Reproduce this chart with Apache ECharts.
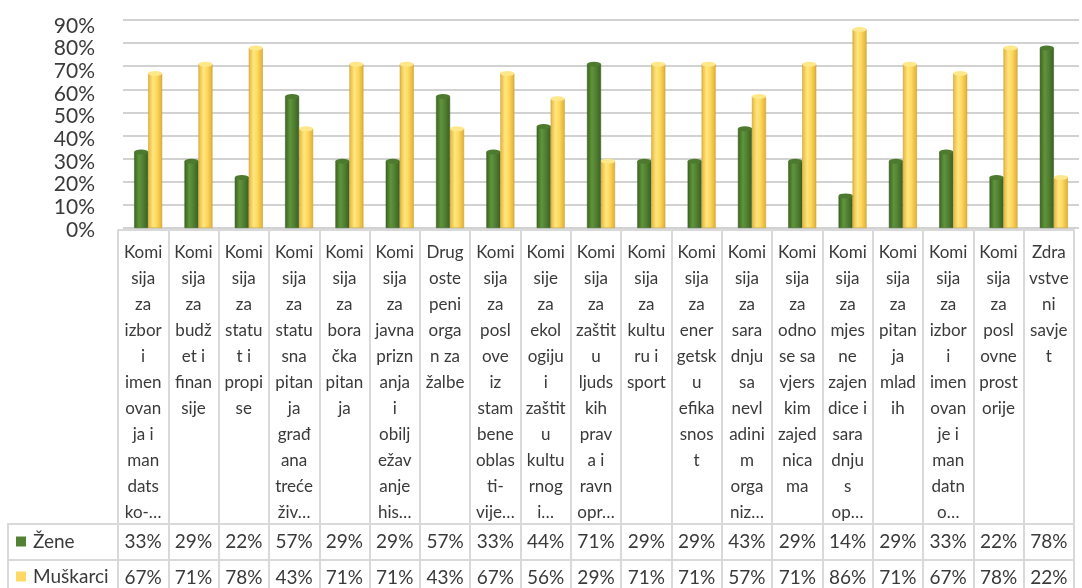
<!DOCTYPE html>
<html>
<head>
<meta charset="utf-8">
<script src="https://cdn.jsdelivr.net/npm/echarts@6/dist/echarts.min.js"></script>
<style>
html,body{margin:0;padding:0;background:#fff;}
#c{width:1082px;height:588px;}
</style>
</head>
<body>
<div id="c"></div>
<script>
// Category labels as displayed (wrapped, truncated as in the picture)
var categories = [
  "Komi\nsija\nza\nizbor\ni\nimen\novan\nja i\nman\ndats\nko-…",
  "Komi\nsija\nza\nbudž\net i\nfinan\nsije",
  "Komi\nsija\nza\nstatu\nt i\npropi\nse",
  "Komi\nsija\nza\nstatu\nsna\npitan\nja\ngrađ\nana\ntreće\nživ…",
  "Komi\nsija\nza\nbora\nčka\npitan\nja",
  "Komi\nsija\nza\njavna\nprizn\nanja\ni\nobilj\nežav\nanje\nhis…",
  "Drug\noste\npeni\norga\nn za\nžalbe",
  "Komi\nsija\nza\nposl\nove\niz\nstam\nbene\noblas\nti-\nvije…",
  "Komi\nsije\nza\nekol\nogiju\ni\nzaštit\nu\nkultu\nrnog\ni…",
  "Komi\nsija\nza\nzaštit\nu\nljuds\nkih\nprav\na i\nravn\nopr…",
  "Komi\nsija\nza\nkultu\nru i\nsport",
  "Komi\nsija\nza\nener\ngetsk\nu\nefika\nsnos\nt",
  "Komi\nsija\nza\nsara\ndnju\nsa\nnevl\nadini\nm\norga\nniz…",
  "Komi\nsija\nza\nodno\nse sa\nvjers\nkim\nzajed\nnica\nma",
  "Komi\nsija\nza\nmjes\nne\nzajen\ndice i\nsara\ndnju\ns\nop…",
  "Komi\nsija\nza\npitan\nja\nmlad\nih",
  "Komi\nsija\nza\nizbor\ni\nimen\novan\nje i\nman\ndatn\no…",
  "Komi\nsija\nza\nposl\novne\nprost\norije",
  "Zdra\nvstve\nni\nsavje\nt"
];
var seriesNames = ["Žene", "Muškarci"];
var zene     = [33,29,22,57,29,29,57,33,44,71,29,29,43,29,14,29,33,22,78];
var muskarci = [67,71,78,43,71,71,43,67,56,29,71,71,57,71,86,71,67,78,22];
var yTicks = [0,10,20,30,40,50,60,70,80,90];

var FONT = 'Lato, "Open Sans", sans-serif';
var TXT = '#3a3a3a';
var LINE = '#d9d9d9';

function grad(stops){
  return new echarts.graphic.LinearGradient(0,0,1,0, stops.map(function(s){return {offset:s[0], color:s[1]};}));
}
function legendFor(name, color, top){
  return {
    orient:'vertical', left:16, top:top, padding:0, itemGap:0,
    itemWidth:10, itemHeight:10, icon:'rect', selectedMode:false,
    itemStyle:{borderWidth:0},
    textStyle:{fontSize:19, color:TXT, fontFamily:FONT, padding:[0,0,0,2]},
    data:[{name:name, itemStyle:{color:color, borderWidth:0}}]
  };
}

var chart = echarts.init(document.getElementById('c'), null, {renderer:'canvas'});
var option = {
  backgroundColor:'#fff',
  animation:false,
  textStyle:{fontFamily:FONT},
  grid:[
    {left:123, right:3, top:20, bottom:360},
    {left:118, right:8, top:26, bottom:358}
  ],
  legend:[
    legendFor(seriesNames[0], '#548235', 532),
    legendFor(seriesNames[1], '#FFD966', 567)
  ],
  xAxis:[
    {gridIndex:0, type:'category', data:categories, show:false},
    {gridIndex:1, type:'category', data:categories, position:'bottom',
      axisLine:{show:true, lineStyle:{color:LINE, width:2}},
      axisTick:{show:true, interval:0, length:358, lineStyle:{color:LINE, width:2}},
      axisLabel:{interval:0, margin:10, fontSize:17, lineHeight:26, color:TXT, fontFamily:FONT, verticalAlign:'top'}
    },
    {gridIndex:1, type:'category', data:categories, position:'bottom', offset:294,
      axisLine:{show:true, lineStyle:{color:LINE, width:2}},
      axisTick:{show:false},
      axisLabel:{interval:0, margin:8, fontSize:19, color:TXT, fontFamily:FONT,
        formatter:function(v,i){return zene[i]+'%';}}
    },
    {gridIndex:1, type:'category', data:categories, position:'bottom', offset:330,
      axisLine:{show:true, lineStyle:{color:LINE, width:2}},
      axisTick:{show:false},
      axisLabel:{interval:0, margin:8, fontSize:19, color:TXT, fontFamily:FONT,
        formatter:function(v,i){return muskarci[i]+'%';}}
    }
  ],
  yAxis:[
    {gridIndex:0, type:'value', min:yTicks[0], max:yTicks[yTicks.length-1], interval:10,
      axisLine:{show:false}, axisTick:{show:false}, axisLabel:{show:false},
      splitLine:{show:true, lineStyle:{color:'#d2d2d2', width:2}}
    },
    {gridIndex:1, type:'value', min:yTicks[0], max:yTicks[yTicks.length-1], interval:10,
      axisLine:{show:false}, axisTick:{show:false}, splitLine:{show:false},
      axisLabel:{margin:23, fontSize:21, color:TXT, fontFamily:FONT, formatter:'{value}%'}
    }
  ],
  series:[
    {name:seriesNames[0], type:'bar', xAxisIndex:0, yAxisIndex:0, data:zene,
      barWidth:14, barGap:'0%',
      itemStyle:{color:grad([[0,'#3a6320'],[0.35,'#5f953a'],[0.6,'#548235'],[1,'#3a6120']]), borderColor:'#36591f', borderWidth:0.5}
    },
    {name:seriesNames[1], type:'bar', xAxisIndex:0, yAxisIndex:0, data:muskarci,
      barWidth:14, barGap:'0%',
      itemStyle:{color:grad([[0,'#e6b53a'],[0.35,'#ffe680'],[0.6,'#ffd95e'],[1,'#dfae35']]), borderColor:'#c99d2e', borderWidth:0.5}
    },
    {name:seriesNames[0]+' top', type:'pictorialBar', xAxisIndex:0, yAxisIndex:0, data:zene,
      symbol:'circle', symbolSize:[14,5], symbolPosition:'end', symbolOffset:[0,'-50%'],
      barWidth:14, barGap:'0%', z:3,
      itemStyle:{color:'#4d7a2e', borderColor:'#6f9f4f', borderWidth:0.8}
    },
    {name:seriesNames[1]+' top', type:'pictorialBar', xAxisIndex:0, yAxisIndex:0, data:muskarci,
      symbol:'circle', symbolSize:[14,5], symbolPosition:'end', symbolOffset:[0,'-50%'],
      barWidth:14, barGap:'0%', z:3,
      itemStyle:{color:'#ffe88a', borderColor:'#d6aa3a', borderWidth:0.8}
    }
  ],
  graphic:[
    {type:'line', shape:{x1:8,y1:524,x2:118,y2:524}, style:{stroke:LINE, lineWidth:2}, silent:true},
    {type:'line', shape:{x1:8,y1:560,x2:118,y2:560}, style:{stroke:LINE, lineWidth:2}, silent:true},
    {type:'line', shape:{x1:8,y1:523,x2:8,y2:588}, style:{stroke:LINE, lineWidth:2}, silent:true}
  ]
};
chart.setOption(option);
</script>
</body>
</html>
